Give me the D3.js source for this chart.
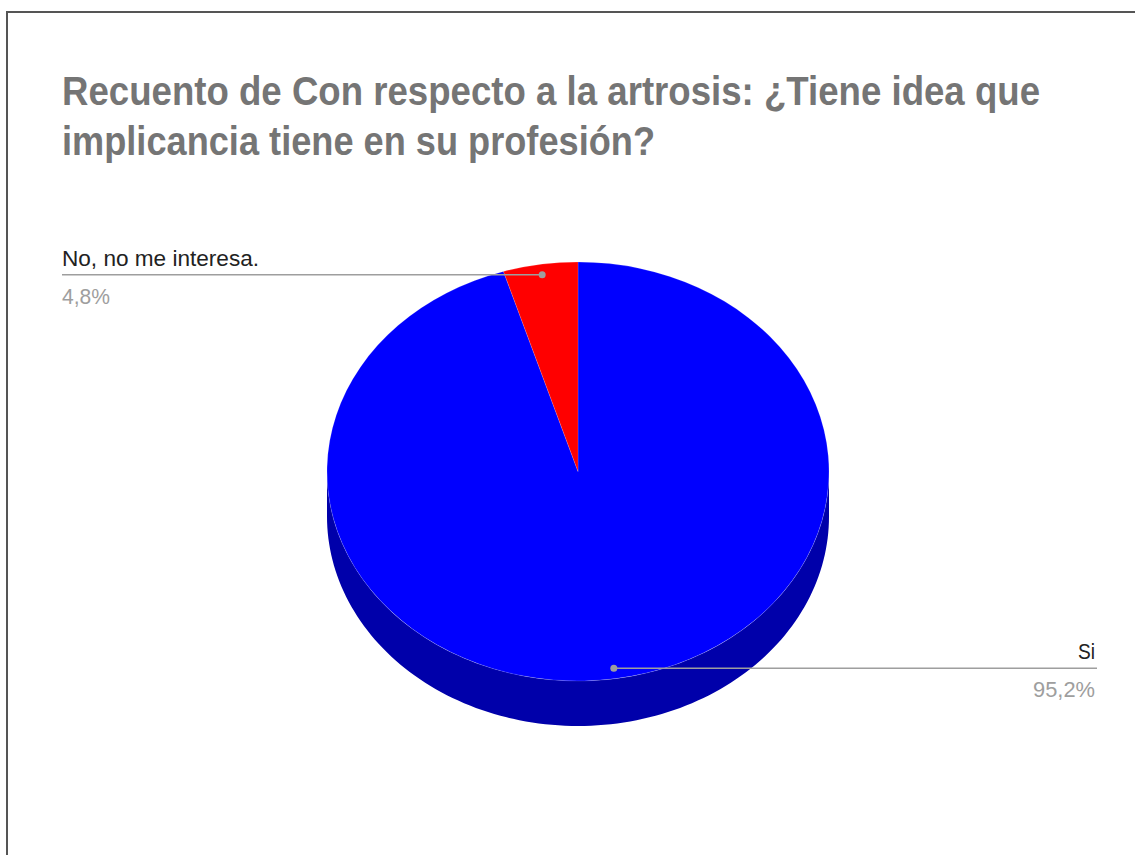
<!DOCTYPE html>
<html>
<head>
<meta charset="utf-8">
<script src="https://cdn.jsdelivr.net/npm/d3@7"></script>
<style>
  html, body { margin: 0; padding: 0; background: #fff; }
  svg { display: block; }
  text { font-family: "Liberation Sans", Arial, sans-serif; }
</style>
</head>
<body>
<svg id="chart" width="1135" height="855"></svg>
<script>
// Survey answers and their shares
const categories = ["Si", "No, no me interesa."];
const values = [95.2, 4.8];
const pctLabels = ["95,2%", "4,8%"];
const colors = ["#0000ff", "#ff0000"];
const sideColors = ["#0000aa", "#aa0000"];
const titleLines = [
  "Recuento de Con respecto a la artrosis: ¿Tiene idea que",
  "implicancia tiene en su profesión?"
];

const svg = d3.select("#chart");

// frame
svg.append("line").attr("x1", 7).attr("x2", 1135).attr("y1", 12).attr("y2", 12)
  .attr("stroke", "#555").attr("stroke-width", 2);
svg.append("line").attr("x1", 7).attr("x2", 7).attr("y1", 11).attr("y2", 855)
  .attr("stroke", "#555").attr("stroke-width", 2);

// title
const titleWidths = [978, 593];
svg.append("g").selectAll("text").data(titleLines).join("text")
  .attr("x", 62)
  .attr("y", (d, i) => 105 + i * 50)
  .attr("font-size", 41)
  .attr("font-weight", "bold")
  .attr("fill", "#757575")
  .attr("textLength", (d, i) => titleWidths[i])
  .attr("lengthAdjust", "spacingAndGlyphs")
  .text(d => d);

// 3D pie geometry
const cx = 578, cy = 471.5, rx = 251, ry = 209.5, depth = 45;
const pie = d3.pie().sort(null).value(d => d);
const arcs = pie(values);

const px = (a, k = 1) => cx + rx * k * Math.sin(a);
const py = (a, k = 1) => cy - ry * k * Math.cos(a);

// side walls for the front half of the disc
const side = svg.append("g");
arcs.forEach((d, i) => {
  const a0 = Math.max(d.startAngle, Math.PI / 2);
  const a1 = Math.min(d.endAngle, 3 * Math.PI / 2);
  if (a1 <= a0) return;
  const steps = d3.range(0, 121).map(t => a0 + (a1 - a0) * t / 120);
  const pts = steps.map(a => [px(a), py(a)])
    .concat(steps.slice().reverse().map(a => [px(a), py(a) + depth]));
  side.append("path")
    .attr("d", d3.line()(pts) + "Z")
    .attr("fill", sideColors[i]);
});

// top faces
const arcGen = d3.arc().innerRadius(0).outerRadius(rx);
svg.append("g")
  .attr("transform", `translate(${cx},${cy}) scale(1,${ry / rx})`)
  .selectAll("path").data(arcs).join("path")
  .attr("d", arcGen)
  .attr("fill", (d, i) => colors[i])
  .attr("stroke", "rgba(255,255,255,0.25)")
  .attr("stroke-width", 0.6)
  .attr("vector-effect", "non-scaling-stroke");

// leader lines and labels
const labelSpec = [
  { side: "right", nameW: 17, pctW: 62 },
  { side: "left", nameW: 197, pctW: 48 }
];
const labels = svg.append("g");
arcs.forEach((d, i) => {
  const mid = (d.startAngle + d.endAngle) / 2;
  const dx = px(mid, 0.95), dy = py(mid, 0.95);
  const spec = labelSpec[i];
  const xEnd = spec.side === "right" ? 1097 : 62;
  const anchor = spec.side === "right" ? "end" : "start";
  const tx = spec.side === "right" ? 1095 : 62;
  labels.append("line")
    .attr("x1", dx).attr("y1", dy).attr("x2", xEnd).attr("y2", dy)
    .attr("stroke", "#9e9e9e").attr("stroke-width", 1.6);
  labels.append("circle")
    .attr("cx", dx).attr("cy", dy).attr("r", 3.5)
    .attr("fill", "#9e9e9e");
  labels.append("text")
    .attr("x", tx).attr("y", dy - 9)
    .attr("text-anchor", anchor)
    .attr("font-size", 22)
    .attr("fill", "#222")
    .attr("textLength", spec.nameW)
    .attr("lengthAdjust", "spacingAndGlyphs")
    .text(categories[i]);
  labels.append("text")
    .attr("x", tx).attr("y", dy + 29)
    .attr("text-anchor", anchor)
    .attr("font-size", 22)
    .attr("fill", "#9e9e9e")
    .attr("textLength", spec.pctW)
    .attr("lengthAdjust", "spacingAndGlyphs")
    .text(pctLabels[i]);
});
</script>
</body>
</html>
